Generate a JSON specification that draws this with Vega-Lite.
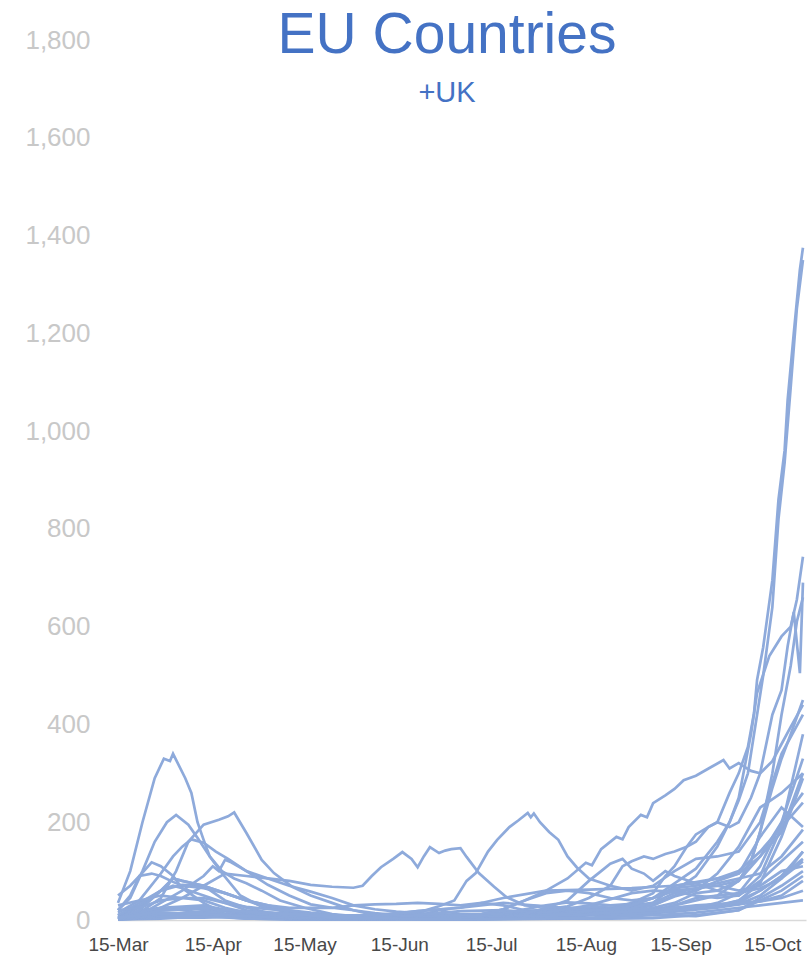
{
"$schema":"https://vega.github.io/schema/vega-lite/v6.json",
"width":688,"height":880,
"autosize":{"type":"none"},
"padding":{"left":118,"top":40,"right":5,"bottom":47},
"background":"white",
"title":{"text":"EU Countries","subtitle":"+UK","anchor":"middle","frame":"group","dx":-15,"offset":-82,"font":"Liberation Sans","fontSize":57,"fontWeight":"normal","color":"#4472c4","subtitleFont":"Liberation Sans","subtitleFontSize":29,"subtitleColor":"#4472c4","subtitlePadding":14},
"config":{"view":{"stroke":null}},
"data":{"values":[
{"c":"CZ","d":"2020-03-15","v":3},{"c":"CZ","d":"2020-03-22","v":8},{"c":"CZ","d":"2020-03-29","v":20},{"c":"CZ","d":"2020-04-05","v":25},{"c":"CZ","d":"2020-04-12","v":22},{"c":"CZ","d":"2020-04-19","v":12},{"c":"CZ","d":"2020-04-26","v":7},{"c":"CZ","d":"2020-05-03","v":5},{"c":"CZ","d":"2020-05-17","v":5},{"c":"CZ","d":"2020-05-31","v":4},{"c":"CZ","d":"2020-06-07","v":5},{"c":"CZ","d":"2020-06-14","v":6},{"c":"CZ","d":"2020-06-21","v":8},{"c":"CZ","d":"2020-06-28","v":20},{"c":"CZ","d":"2020-07-05","v":12},{"c":"CZ","d":"2020-07-12","v":12},{"c":"CZ","d":"2020-07-19","v":16},{"c":"CZ","d":"2020-07-26","v":18},{"c":"CZ","d":"2020-08-02","v":20},{"c":"CZ","d":"2020-08-09","v":20},{"c":"CZ","d":"2020-08-16","v":18},{"c":"CZ","d":"2020-08-23","v":22},{"c":"CZ","d":"2020-08-30","v":35},{"c":"CZ","d":"2020-09-06","v":55},{"c":"CZ","d":"2020-09-10","v":90},{"c":"CZ","d":"2020-09-13","v":110},{"c":"CZ","d":"2020-09-17","v":150},{"c":"CZ","d":"2020-09-20","v":175},{"c":"CZ","d":"2020-09-24","v":190},{"c":"CZ","d":"2020-09-27","v":200},{"c":"CZ","d":"2020-10-01","v":260},{"c":"CZ","d":"2020-10-04","v":300},{"c":"CZ","d":"2020-10-07","v":354},{"c":"CZ","d":"2020-10-09","v":423},{"c":"CZ","d":"2020-10-10","v":491},{"c":"CZ","d":"2020-10-12","v":558},{"c":"CZ","d":"2020-10-15","v":695},{"c":"CZ","d":"2020-10-17","v":860},{"c":"CZ","d":"2020-10-19","v":960},{"c":"CZ","d":"2020-10-20","v":1064},{"c":"CZ","d":"2020-10-22","v":1200},{"c":"CZ","d":"2020-10-24","v":1330},{"c":"CZ","d":"2020-10-25","v":1375},
{"c":"BE","d":"2020-03-15","v":15},{"c":"BE","d":"2020-03-22","v":40},{"c":"BE","d":"2020-03-29","v":95},{"c":"BE","d":"2020-04-02","v":130},{"c":"BE","d":"2020-04-05","v":150},{"c":"BE","d":"2020-04-08","v":165},{"c":"BE","d":"2020-04-12","v":158},{"c":"BE","d":"2020-04-16","v":140},{"c":"BE","d":"2020-04-20","v":125},{"c":"BE","d":"2020-04-26","v":100},{"c":"BE","d":"2020-05-03","v":72},{"c":"BE","d":"2020-05-10","v":50},{"c":"BE","d":"2020-05-17","v":32},{"c":"BE","d":"2020-05-24","v":25},{"c":"BE","d":"2020-05-31","v":20},{"c":"BE","d":"2020-06-07","v":14},{"c":"BE","d":"2020-06-14","v":10},{"c":"BE","d":"2020-06-21","v":8},{"c":"BE","d":"2020-06-28","v":8},{"c":"BE","d":"2020-07-05","v":9},{"c":"BE","d":"2020-07-12","v":12},{"c":"BE","d":"2020-07-19","v":22},{"c":"BE","d":"2020-07-26","v":40},{"c":"BE","d":"2020-08-02","v":55},{"c":"BE","d":"2020-08-09","v":60},{"c":"BE","d":"2020-08-16","v":55},{"c":"BE","d":"2020-08-23","v":45},{"c":"BE","d":"2020-08-30","v":40},{"c":"BE","d":"2020-09-06","v":45},{"c":"BE","d":"2020-09-13","v":60},{"c":"BE","d":"2020-09-20","v":90},{"c":"BE","d":"2020-09-27","v":150},{"c":"BE","d":"2020-10-01","v":200},{"c":"BE","d":"2020-10-04","v":245},{"c":"BE","d":"2020-10-07","v":300},{"c":"BE","d":"2020-10-10","v":420},{"c":"BE","d":"2020-10-12","v":500},{"c":"BE","d":"2020-10-15","v":640},{"c":"BE","d":"2020-10-17","v":820},{"c":"BE","d":"2020-10-19","v":935},{"c":"BE","d":"2020-10-21","v":1090},{"c":"BE","d":"2020-10-23","v":1250},{"c":"BE","d":"2020-10-25","v":1350},
{"c":"NL","d":"2020-03-15","v":8},{"c":"NL","d":"2020-03-22","v":25},{"c":"NL","d":"2020-03-29","v":60},{"c":"NL","d":"2020-04-05","v":72},{"c":"NL","d":"2020-04-12","v":70},{"c":"NL","d":"2020-04-19","v":55},{"c":"NL","d":"2020-04-26","v":40},{"c":"NL","d":"2020-05-03","v":25},{"c":"NL","d":"2020-05-10","v":18},{"c":"NL","d":"2020-05-17","v":12},{"c":"NL","d":"2020-05-24","v":10},{"c":"NL","d":"2020-05-31","v":9},{"c":"NL","d":"2020-06-07","v":8},{"c":"NL","d":"2020-06-14","v":6},{"c":"NL","d":"2020-06-21","v":5},{"c":"NL","d":"2020-06-28","v":4},{"c":"NL","d":"2020-07-05","v":4},{"c":"NL","d":"2020-07-12","v":7},{"c":"NL","d":"2020-07-19","v":12},{"c":"NL","d":"2020-07-26","v":22},{"c":"NL","d":"2020-08-02","v":30},{"c":"NL","d":"2020-08-09","v":36},{"c":"NL","d":"2020-08-16","v":34},{"c":"NL","d":"2020-08-23","v":30},{"c":"NL","d":"2020-08-30","v":33},{"c":"NL","d":"2020-09-06","v":45},{"c":"NL","d":"2020-09-13","v":75},{"c":"NL","d":"2020-09-20","v":105},{"c":"NL","d":"2020-09-27","v":160},{"c":"NL","d":"2020-10-01","v":200},{"c":"NL","d":"2020-10-04","v":250},{"c":"NL","d":"2020-10-08","v":380},{"c":"NL","d":"2020-10-10","v":464},{"c":"NL","d":"2020-10-14","v":540},{"c":"NL","d":"2020-10-18","v":580},{"c":"NL","d":"2020-10-21","v":600},{"c":"NL","d":"2020-10-23","v":655},{"c":"NL","d":"2020-10-25","v":743},
{"c":"FR","d":"2020-03-15","v":10},{"c":"FR","d":"2020-03-22","v":30},{"c":"FR","d":"2020-03-29","v":60},{"c":"FR","d":"2020-04-02","v":85},{"c":"FR","d":"2020-04-05","v":80},{"c":"FR","d":"2020-04-12","v":70},{"c":"FR","d":"2020-04-19","v":40},{"c":"FR","d":"2020-04-26","v":25},{"c":"FR","d":"2020-05-03","v":15},{"c":"FR","d":"2020-05-10","v":10},{"c":"FR","d":"2020-05-17","v":8},{"c":"FR","d":"2020-05-24","v":6},{"c":"FR","d":"2020-05-31","v":6},{"c":"FR","d":"2020-06-14","v":8},{"c":"FR","d":"2020-06-28","v":9},{"c":"FR","d":"2020-07-12","v":10},{"c":"FR","d":"2020-07-26","v":16},{"c":"FR","d":"2020-08-02","v":22},{"c":"FR","d":"2020-08-09","v":28},{"c":"FR","d":"2020-08-16","v":45},{"c":"FR","d":"2020-08-23","v":70},{"c":"FR","d":"2020-08-27","v":110},{"c":"FR","d":"2020-08-30","v":120},{"c":"FR","d":"2020-09-03","v":130},{"c":"FR","d":"2020-09-06","v":125},{"c":"FR","d":"2020-09-10","v":135},{"c":"FR","d":"2020-09-13","v":140},{"c":"FR","d":"2020-09-17","v":150},{"c":"FR","d":"2020-09-20","v":160},{"c":"FR","d":"2020-09-24","v":190},{"c":"FR","d":"2020-09-27","v":200},{"c":"FR","d":"2020-10-01","v":190},{"c":"FR","d":"2020-10-04","v":200},{"c":"FR","d":"2020-10-08","v":250},{"c":"FR","d":"2020-10-11","v":300},{"c":"FR","d":"2020-10-15","v":420},{"c":"FR","d":"2020-10-18","v":470},{"c":"FR","d":"2020-10-20","v":560},{"c":"FR","d":"2020-10-22","v":630},{"c":"FR","d":"2020-10-24","v":505},{"c":"FR","d":"2020-10-25","v":690},
{"c":"SI","d":"2020-03-15","v":5},{"c":"SI","d":"2020-03-22","v":20},{"c":"SI","d":"2020-03-29","v":25},{"c":"SI","d":"2020-04-05","v":20},{"c":"SI","d":"2020-04-12","v":15},{"c":"SI","d":"2020-04-19","v":8},{"c":"SI","d":"2020-04-26","v":4},{"c":"SI","d":"2020-05-10","v":2},{"c":"SI","d":"2020-05-31","v":1},{"c":"SI","d":"2020-06-14","v":2},{"c":"SI","d":"2020-06-28","v":8},{"c":"SI","d":"2020-07-12","v":10},{"c":"SI","d":"2020-07-26","v":8},{"c":"SI","d":"2020-08-09","v":10},{"c":"SI","d":"2020-08-23","v":12},{"c":"SI","d":"2020-09-06","v":20},{"c":"SI","d":"2020-09-13","v":30},{"c":"SI","d":"2020-09-20","v":45},{"c":"SI","d":"2020-09-27","v":50},{"c":"SI","d":"2020-10-04","v":80},{"c":"SI","d":"2020-10-08","v":120},{"c":"SI","d":"2020-10-11","v":180},{"c":"SI","d":"2020-10-15","v":300},{"c":"SI","d":"2020-10-18","v":420},{"c":"SI","d":"2020-10-21","v":520},{"c":"SI","d":"2020-10-23","v":610},{"c":"SI","d":"2020-10-25","v":660},
{"c":"LU","d":"2020-03-15","v":35},{"c":"LU","d":"2020-03-19","v":100},{"c":"LU","d":"2020-03-23","v":200},{"c":"LU","d":"2020-03-27","v":290},{"c":"LU","d":"2020-03-30","v":330},{"c":"LU","d":"2020-04-01","v":325},{"c":"LU","d":"2020-04-02","v":340},{"c":"LU","d":"2020-04-06","v":290},{"c":"LU","d":"2020-04-08","v":260},{"c":"LU","d":"2020-04-10","v":200},{"c":"LU","d":"2020-04-12","v":164},{"c":"LU","d":"2020-04-14","v":130},{"c":"LU","d":"2020-04-18","v":96},{"c":"LU","d":"2020-04-24","v":50},{"c":"LU","d":"2020-05-01","v":27},{"c":"LU","d":"2020-05-10","v":15},{"c":"LU","d":"2020-05-20","v":8},{"c":"LU","d":"2020-05-31","v":5},{"c":"LU","d":"2020-06-14","v":8},{"c":"LU","d":"2020-06-21","v":15},{"c":"LU","d":"2020-06-28","v":28},{"c":"LU","d":"2020-07-03","v":40},{"c":"LU","d":"2020-07-07","v":80},{"c":"LU","d":"2020-07-10","v":96},{"c":"LU","d":"2020-07-14","v":140},{"c":"LU","d":"2020-07-17","v":164},{"c":"LU","d":"2020-07-21","v":190},{"c":"LU","d":"2020-07-24","v":204},{"c":"LU","d":"2020-07-27","v":219},{"c":"LU","d":"2020-07-28","v":210},{"c":"LU","d":"2020-07-29","v":218},{"c":"LU","d":"2020-07-31","v":200},{"c":"LU","d":"2020-08-03","v":180},{"c":"LU","d":"2020-08-06","v":164},{"c":"LU","d":"2020-08-09","v":130},{"c":"LU","d":"2020-08-12","v":108},{"c":"LU","d":"2020-08-16","v":85},{"c":"LU","d":"2020-08-23","v":70},{"c":"LU","d":"2020-08-30","v":60},{"c":"LU","d":"2020-09-06","v":70},{"c":"LU","d":"2020-09-13","v":100},{"c":"LU","d":"2020-09-20","v":125},{"c":"LU","d":"2020-09-27","v":130},{"c":"LU","d":"2020-10-04","v":140},{"c":"LU","d":"2020-10-11","v":200},{"c":"LU","d":"2020-10-18","v":340},{"c":"LU","d":"2020-10-25","v":420},
{"c":"ES","d":"2020-03-15","v":20},{"c":"ES","d":"2020-03-19","v":45},{"c":"ES","d":"2020-03-23","v":100},{"c":"ES","d":"2020-03-27","v":160},{"c":"ES","d":"2020-03-31","v":200},{"c":"ES","d":"2020-04-03","v":215},{"c":"ES","d":"2020-04-07","v":195},{"c":"ES","d":"2020-04-10","v":168},{"c":"ES","d":"2020-04-14","v":130},{"c":"ES","d":"2020-04-18","v":100},{"c":"ES","d":"2020-04-22","v":85},{"c":"ES","d":"2020-04-26","v":75},{"c":"ES","d":"2020-05-01","v":60},{"c":"ES","d":"2020-05-07","v":40},{"c":"ES","d":"2020-05-15","v":25},{"c":"ES","d":"2020-05-24","v":12},{"c":"ES","d":"2020-05-31","v":8},{"c":"ES","d":"2020-06-14","v":7},{"c":"ES","d":"2020-06-28","v":8},{"c":"ES","d":"2020-07-05","v":9},{"c":"ES","d":"2020-07-12","v":12},{"c":"ES","d":"2020-07-19","v":22},{"c":"ES","d":"2020-07-26","v":40},{"c":"ES","d":"2020-08-02","v":60},{"c":"ES","d":"2020-08-09","v":85},{"c":"ES","d":"2020-08-15","v":117},{"c":"ES","d":"2020-08-17","v":112},{"c":"ES","d":"2020-08-20","v":145},{"c":"ES","d":"2020-08-25","v":170},{"c":"ES","d":"2020-08-27","v":165},{"c":"ES","d":"2020-08-29","v":190},{"c":"ES","d":"2020-09-02","v":215},{"c":"ES","d":"2020-09-04","v":210},{"c":"ES","d":"2020-09-06","v":239},{"c":"ES","d":"2020-09-10","v":255},{"c":"ES","d":"2020-09-13","v":268},{"c":"ES","d":"2020-09-16","v":286},{"c":"ES","d":"2020-09-20","v":295},{"c":"ES","d":"2020-09-25","v":313},{"c":"ES","d":"2020-09-29","v":327},{"c":"ES","d":"2020-10-01","v":310},{"c":"ES","d":"2020-10-04","v":321},{"c":"ES","d":"2020-10-08","v":305},{"c":"ES","d":"2020-10-11","v":300},{"c":"ES","d":"2020-10-15","v":325},{"c":"ES","d":"2020-10-18","v":360},{"c":"ES","d":"2020-10-21","v":395},{"c":"ES","d":"2020-10-25","v":440},
{"c":"IE","d":"2020-03-15","v":5},{"c":"IE","d":"2020-03-22","v":15},{"c":"IE","d":"2020-03-29","v":45},{"c":"IE","d":"2020-04-03","v":100},{"c":"IE","d":"2020-04-07","v":160},{"c":"IE","d":"2020-04-12","v":195},{"c":"IE","d":"2020-04-17","v":205},{"c":"IE","d":"2020-04-20","v":212},{"c":"IE","d":"2020-04-22","v":220},{"c":"IE","d":"2020-04-26","v":178},{"c":"IE","d":"2020-05-01","v":123},{"c":"IE","d":"2020-05-05","v":96},{"c":"IE","d":"2020-05-11","v":68},{"c":"IE","d":"2020-05-17","v":50},{"c":"IE","d":"2020-05-24","v":35},{"c":"IE","d":"2020-05-31","v":20},{"c":"IE","d":"2020-06-07","v":10},{"c":"IE","d":"2020-06-14","v":5},{"c":"IE","d":"2020-06-28","v":4},{"c":"IE","d":"2020-07-12","v":5},{"c":"IE","d":"2020-07-26","v":8},{"c":"IE","d":"2020-08-09","v":15},{"c":"IE","d":"2020-08-16","v":30},{"c":"IE","d":"2020-08-23","v":25},{"c":"IE","d":"2020-08-30","v":25},{"c":"IE","d":"2020-09-06","v":30},{"c":"IE","d":"2020-09-13","v":50},{"c":"IE","d":"2020-09-20","v":60},{"c":"IE","d":"2020-09-27","v":80},{"c":"IE","d":"2020-10-04","v":95},{"c":"IE","d":"2020-10-11","v":170},{"c":"IE","d":"2020-10-18","v":230},{"c":"IE","d":"2020-10-25","v":190},
{"c":"SE","d":"2020-03-15","v":5},{"c":"SE","d":"2020-03-22","v":10},{"c":"SE","d":"2020-03-29","v":25},{"c":"SE","d":"2020-04-05","v":45},{"c":"SE","d":"2020-04-12","v":70},{"c":"SE","d":"2020-04-19","v":95},{"c":"SE","d":"2020-04-26","v":90},{"c":"SE","d":"2020-05-03","v":85},{"c":"SE","d":"2020-05-10","v":80},{"c":"SE","d":"2020-05-17","v":72},{"c":"SE","d":"2020-05-24","v":68},{"c":"SE","d":"2020-05-31","v":66},{"c":"SE","d":"2020-06-03","v":70},{"c":"SE","d":"2020-06-06","v":90},{"c":"SE","d":"2020-06-09","v":108},{"c":"SE","d":"2020-06-13","v":125},{"c":"SE","d":"2020-06-16","v":139},{"c":"SE","d":"2020-06-19","v":125},{"c":"SE","d":"2020-06-21","v":108},{"c":"SE","d":"2020-06-23","v":130},{"c":"SE","d":"2020-06-25","v":149},{"c":"SE","d":"2020-06-28","v":137},{"c":"SE","d":"2020-06-30","v":142},{"c":"SE","d":"2020-07-02","v":145},{"c":"SE","d":"2020-07-05","v":147},{"c":"SE","d":"2020-07-07","v":129},{"c":"SE","d":"2020-07-11","v":96},{"c":"SE","d":"2020-07-16","v":68},{"c":"SE","d":"2020-07-20","v":47},{"c":"SE","d":"2020-07-26","v":30},{"c":"SE","d":"2020-08-09","v":25},{"c":"SE","d":"2020-08-23","v":25},{"c":"SE","d":"2020-09-06","v":20},{"c":"SE","d":"2020-09-13","v":30},{"c":"SE","d":"2020-09-20","v":40},{"c":"SE","d":"2020-09-27","v":50},{"c":"SE","d":"2020-10-04","v":55},{"c":"SE","d":"2020-10-11","v":65},{"c":"SE","d":"2020-10-18","v":85},{"c":"SE","d":"2020-10-25","v":120},
{"c":"AT","d":"2020-03-15","v":20},{"c":"AT","d":"2020-03-19","v":50},{"c":"AT","d":"2020-03-22","v":90},{"c":"AT","d":"2020-03-26","v":118},{"c":"AT","d":"2020-03-29","v":110},{"c":"AT","d":"2020-04-02","v":90},{"c":"AT","d":"2020-04-05","v":65},{"c":"AT","d":"2020-04-12","v":35},{"c":"AT","d":"2020-04-19","v":12},{"c":"AT","d":"2020-04-26","v":8},{"c":"AT","d":"2020-05-10","v":5},{"c":"AT","d":"2020-05-31","v":4},{"c":"AT","d":"2020-06-14","v":5},{"c":"AT","d":"2020-06-28","v":10},{"c":"AT","d":"2020-07-12","v":12},{"c":"AT","d":"2020-07-26","v":12},{"c":"AT","d":"2020-08-09","v":15},{"c":"AT","d":"2020-08-23","v":25},{"c":"AT","d":"2020-09-06","v":35},{"c":"AT","d":"2020-09-13","v":70},{"c":"AT","d":"2020-09-20","v":75},{"c":"AT","d":"2020-09-27","v":85},{"c":"AT","d":"2020-10-04","v":95},{"c":"AT","d":"2020-10-11","v":130},{"c":"AT","d":"2020-10-18","v":180},{"c":"AT","d":"2020-10-25","v":300},
{"c":"IT","d":"2020-03-15","v":50},{"c":"IT","d":"2020-03-19","v":70},{"c":"IT","d":"2020-03-22","v":90},{"c":"IT","d":"2020-03-26","v":95},{"c":"IT","d":"2020-03-29","v":90},{"c":"IT","d":"2020-04-02","v":78},{"c":"IT","d":"2020-04-05","v":70},{"c":"IT","d":"2020-04-12","v":65},{"c":"IT","d":"2020-04-19","v":55},{"c":"IT","d":"2020-04-26","v":40},{"c":"IT","d":"2020-05-03","v":30},{"c":"IT","d":"2020-05-10","v":20},{"c":"IT","d":"2020-05-17","v":15},{"c":"IT","d":"2020-05-24","v":11},{"c":"IT","d":"2020-05-31","v":6},{"c":"IT","d":"2020-06-14","v":5},{"c":"IT","d":"2020-06-28","v":3},{"c":"IT","d":"2020-07-12","v":3},{"c":"IT","d":"2020-07-26","v":4},{"c":"IT","d":"2020-08-09","v":6},{"c":"IT","d":"2020-08-23","v":17},{"c":"IT","d":"2020-09-06","v":23},{"c":"IT","d":"2020-09-20","v":26},{"c":"IT","d":"2020-09-27","v":28},{"c":"IT","d":"2020-10-04","v":40},{"c":"IT","d":"2020-10-11","v":75},{"c":"IT","d":"2020-10-18","v":170},{"c":"IT","d":"2020-10-25","v":290},
{"c":"UK","d":"2020-03-15","v":2},{"c":"UK","d":"2020-03-22","v":10},{"c":"UK","d":"2020-03-29","v":35},{"c":"UK","d":"2020-04-05","v":60},{"c":"UK","d":"2020-04-12","v":90},{"c":"UK","d":"2020-04-15","v":110},{"c":"UK","d":"2020-04-17","v":100},{"c":"UK","d":"2020-04-19","v":123},{"c":"UK","d":"2020-04-21","v":118},{"c":"UK","d":"2020-04-26","v":100},{"c":"UK","d":"2020-05-03","v":85},{"c":"UK","d":"2020-05-10","v":70},{"c":"UK","d":"2020-05-17","v":58},{"c":"UK","d":"2020-05-24","v":45},{"c":"UK","d":"2020-05-31","v":30},{"c":"UK","d":"2020-06-07","v":22},{"c":"UK","d":"2020-06-14","v":17},{"c":"UK","d":"2020-06-21","v":14},{"c":"UK","d":"2020-06-28","v":12},{"c":"UK","d":"2020-07-05","v":10},{"c":"UK","d":"2020-07-12","v":9},{"c":"UK","d":"2020-07-19","v":10},{"c":"UK","d":"2020-07-26","v":11},{"c":"UK","d":"2020-08-02","v":12},{"c":"UK","d":"2020-08-09","v":14},{"c":"UK","d":"2020-08-16","v":16},{"c":"UK","d":"2020-08-23","v":17},{"c":"UK","d":"2020-08-30","v":20},{"c":"UK","d":"2020-09-06","v":30},{"c":"UK","d":"2020-09-13","v":48},{"c":"UK","d":"2020-09-20","v":60},{"c":"UK","d":"2020-09-27","v":95},{"c":"UK","d":"2020-10-04","v":150},{"c":"UK","d":"2020-10-11","v":230},{"c":"UK","d":"2020-10-18","v":260},{"c":"UK","d":"2020-10-25","v":300},
{"c":"PT","d":"2020-03-15","v":3},{"c":"PT","d":"2020-03-22","v":20},{"c":"PT","d":"2020-03-29","v":60},{"c":"PT","d":"2020-04-02","v":85},{"c":"PT","d":"2020-04-05","v":80},{"c":"PT","d":"2020-04-12","v":70},{"c":"PT","d":"2020-04-19","v":55},{"c":"PT","d":"2020-04-26","v":40},{"c":"PT","d":"2020-05-03","v":30},{"c":"PT","d":"2020-05-10","v":25},{"c":"PT","d":"2020-05-24","v":25},{"c":"PT","d":"2020-05-31","v":30},{"c":"PT","d":"2020-06-07","v":32},{"c":"PT","d":"2020-06-14","v":33},{"c":"PT","d":"2020-06-21","v":35},{"c":"PT","d":"2020-06-28","v":33},{"c":"PT","d":"2020-07-05","v":30},{"c":"PT","d":"2020-07-12","v":35},{"c":"PT","d":"2020-07-19","v":30},{"c":"PT","d":"2020-07-26","v":20},{"c":"PT","d":"2020-08-02","v":17},{"c":"PT","d":"2020-08-16","v":20},{"c":"PT","d":"2020-08-30","v":25},{"c":"PT","d":"2020-09-06","v":35},{"c":"PT","d":"2020-09-13","v":55},{"c":"PT","d":"2020-09-20","v":65},{"c":"PT","d":"2020-09-27","v":70},{"c":"PT","d":"2020-10-04","v":80},{"c":"PT","d":"2020-10-11","v":130},{"c":"PT","d":"2020-10-18","v":200},{"c":"PT","d":"2020-10-25","v":260},
{"c":"DE","d":"2020-03-15","v":10},{"c":"DE","d":"2020-03-22","v":35},{"c":"DE","d":"2020-03-29","v":60},{"c":"DE","d":"2020-04-02","v":70},{"c":"DE","d":"2020-04-05","v":65},{"c":"DE","d":"2020-04-12","v":50},{"c":"DE","d":"2020-04-19","v":35},{"c":"DE","d":"2020-04-26","v":20},{"c":"DE","d":"2020-05-03","v":12},{"c":"DE","d":"2020-05-10","v":10},{"c":"DE","d":"2020-05-17","v":8},{"c":"DE","d":"2020-05-24","v":6},{"c":"DE","d":"2020-05-31","v":5},{"c":"DE","d":"2020-06-14","v":4},{"c":"DE","d":"2020-06-21","v":7},{"c":"DE","d":"2020-06-28","v":6},{"c":"DE","d":"2020-07-12","v":5},{"c":"DE","d":"2020-07-26","v":8},{"c":"DE","d":"2020-08-02","v":10},{"c":"DE","d":"2020-08-09","v":12},{"c":"DE","d":"2020-08-16","v":15},{"c":"DE","d":"2020-08-23","v":16},{"c":"DE","d":"2020-08-30","v":15},{"c":"DE","d":"2020-09-06","v":14},{"c":"DE","d":"2020-09-13","v":17},{"c":"DE","d":"2020-09-20","v":21},{"c":"DE","d":"2020-09-27","v":25},{"c":"DE","d":"2020-10-04","v":32},{"c":"DE","d":"2020-10-11","v":50},{"c":"DE","d":"2020-10-18","v":85},{"c":"DE","d":"2020-10-25","v":140},
{"c":"DK","d":"2020-03-15","v":20},{"c":"DK","d":"2020-03-22","v":25},{"c":"DK","d":"2020-03-29","v":40},{"c":"DK","d":"2020-04-05","v":45},{"c":"DK","d":"2020-04-12","v":45},{"c":"DK","d":"2020-04-19","v":35},{"c":"DK","d":"2020-04-26","v":27},{"c":"DK","d":"2020-05-03","v":22},{"c":"DK","d":"2020-05-10","v":20},{"c":"DK","d":"2020-05-17","v":12},{"c":"DK","d":"2020-05-24","v":8},{"c":"DK","d":"2020-05-31","v":6},{"c":"DK","d":"2020-06-14","v":7},{"c":"DK","d":"2020-06-28","v":6},{"c":"DK","d":"2020-07-12","v":3},{"c":"DK","d":"2020-07-26","v":8},{"c":"DK","d":"2020-08-02","v":15},{"c":"DK","d":"2020-08-16","v":14},{"c":"DK","d":"2020-08-30","v":30},{"c":"DK","d":"2020-09-06","v":45},{"c":"DK","d":"2020-09-13","v":60},{"c":"DK","d":"2020-09-20","v":65},{"c":"DK","d":"2020-09-27","v":70},{"c":"DK","d":"2020-10-04","v":60},{"c":"DK","d":"2020-10-11","v":70},{"c":"DK","d":"2020-10-18","v":100},{"c":"DK","d":"2020-10-25","v":110},
{"c":"PL","d":"2020-03-15","v":1},{"c":"PL","d":"2020-03-29","v":6},{"c":"PL","d":"2020-04-12","v":9},{"c":"PL","d":"2020-04-26","v":8},{"c":"PL","d":"2020-05-10","v":8},{"c":"PL","d":"2020-05-24","v":9},{"c":"PL","d":"2020-06-07","v":10},{"c":"PL","d":"2020-06-21","v":9},{"c":"PL","d":"2020-07-05","v":8},{"c":"PL","d":"2020-07-19","v":9},{"c":"PL","d":"2020-08-02","v":15},{"c":"PL","d":"2020-08-16","v":20},{"c":"PL","d":"2020-08-30","v":17},{"c":"PL","d":"2020-09-13","v":18},{"c":"PL","d":"2020-09-20","v":25},{"c":"PL","d":"2020-09-27","v":35},{"c":"PL","d":"2020-10-04","v":55},{"c":"PL","d":"2020-10-11","v":110},{"c":"PL","d":"2020-10-18","v":200},{"c":"PL","d":"2020-10-25","v":330},
{"c":"RO","d":"2020-03-15","v":1},{"c":"RO","d":"2020-03-29","v":10},{"c":"RO","d":"2020-04-12","v":18},{"c":"RO","d":"2020-04-26","v":18},{"c":"RO","d":"2020-05-10","v":13},{"c":"RO","d":"2020-05-24","v":9},{"c":"RO","d":"2020-06-07","v":10},{"c":"RO","d":"2020-06-21","v":18},{"c":"RO","d":"2020-07-05","v":25},{"c":"RO","d":"2020-07-19","v":45},{"c":"RO","d":"2020-08-02","v":60},{"c":"RO","d":"2020-08-16","v":62},{"c":"RO","d":"2020-08-30","v":65},{"c":"RO","d":"2020-09-13","v":70},{"c":"RO","d":"2020-09-27","v":85},{"c":"RO","d":"2020-10-04","v":100},{"c":"RO","d":"2020-10-11","v":140},{"c":"RO","d":"2020-10-18","v":190},{"c":"RO","d":"2020-10-25","v":240},
{"c":"HU","d":"2020-03-15","v":1},{"c":"HU","d":"2020-03-29","v":3},{"c":"HU","d":"2020-04-12","v":8},{"c":"HU","d":"2020-04-26","v":7},{"c":"HU","d":"2020-05-10","v":4},{"c":"HU","d":"2020-05-24","v":2},{"c":"HU","d":"2020-06-07","v":1},{"c":"HU","d":"2020-06-28","v":1},{"c":"HU","d":"2020-07-12","v":2},{"c":"HU","d":"2020-07-26","v":3},{"c":"HU","d":"2020-08-09","v":5},{"c":"HU","d":"2020-08-23","v":15},{"c":"HU","d":"2020-09-06","v":45},{"c":"HU","d":"2020-09-13","v":65},{"c":"HU","d":"2020-09-20","v":70},{"c":"HU","d":"2020-09-27","v":75},{"c":"HU","d":"2020-10-04","v":85},{"c":"HU","d":"2020-10-11","v":95},{"c":"HU","d":"2020-10-18","v":130},{"c":"HU","d":"2020-10-25","v":185},
{"c":"SK","d":"2020-03-15","v":1},{"c":"SK","d":"2020-03-29","v":8},{"c":"SK","d":"2020-04-12","v":10},{"c":"SK","d":"2020-04-26","v":3},{"c":"SK","d":"2020-05-10","v":1},{"c":"SK","d":"2020-05-31","v":1},{"c":"SK","d":"2020-06-14","v":3},{"c":"SK","d":"2020-07-05","v":4},{"c":"SK","d":"2020-07-19","v":7},{"c":"SK","d":"2020-08-02","v":10},{"c":"SK","d":"2020-08-16","v":12},{"c":"SK","d":"2020-08-30","v":18},{"c":"SK","d":"2020-09-06","v":25},{"c":"SK","d":"2020-09-13","v":35},{"c":"SK","d":"2020-09-20","v":55},{"c":"SK","d":"2020-09-27","v":60},{"c":"SK","d":"2020-10-04","v":80},{"c":"SK","d":"2020-10-08","v":120},{"c":"SK","d":"2020-10-11","v":180},{"c":"SK","d":"2020-10-15","v":270},{"c":"SK","d":"2020-10-18","v":330},{"c":"SK","d":"2020-10-21","v":380},{"c":"SK","d":"2020-10-25","v":450},
{"c":"BG","d":"2020-03-15","v":1},{"c":"BG","d":"2020-03-29","v":5},{"c":"BG","d":"2020-04-12","v":5},{"c":"BG","d":"2020-04-26","v":7},{"c":"BG","d":"2020-05-10","v":5},{"c":"BG","d":"2020-05-24","v":4},{"c":"BG","d":"2020-06-07","v":8},{"c":"BG","d":"2020-06-21","v":18},{"c":"BG","d":"2020-07-05","v":25},{"c":"BG","d":"2020-07-19","v":35},{"c":"BG","d":"2020-08-02","v":28},{"c":"BG","d":"2020-08-16","v":20},{"c":"BG","d":"2020-08-30","v":15},{"c":"BG","d":"2020-09-13","v":20},{"c":"BG","d":"2020-09-27","v":30},{"c":"BG","d":"2020-10-04","v":40},{"c":"BG","d":"2020-10-11","v":60},{"c":"BG","d":"2020-10-18","v":90},{"c":"BG","d":"2020-10-25","v":140},
{"c":"HR","d":"2020-03-15","v":1},{"c":"HR","d":"2020-03-29","v":15},{"c":"HR","d":"2020-04-12","v":12},{"c":"HR","d":"2020-04-26","v":6},{"c":"HR","d":"2020-05-10","v":2},{"c":"HR","d":"2020-05-24","v":1},{"c":"HR","d":"2020-06-07","v":1},{"c":"HR","d":"2020-06-21","v":10},{"c":"HR","d":"2020-07-05","v":18},{"c":"HR","d":"2020-07-19","v":20},{"c":"HR","d":"2020-08-02","v":15},{"c":"HR","d":"2020-08-16","v":30},{"c":"HR","d":"2020-08-30","v":55},{"c":"HR","d":"2020-09-06","v":60},{"c":"HR","d":"2020-09-13","v":58},{"c":"HR","d":"2020-09-20","v":50},{"c":"HR","d":"2020-09-27","v":45},{"c":"HR","d":"2020-10-04","v":50},{"c":"HR","d":"2020-10-11","v":90},{"c":"HR","d":"2020-10-18","v":190},{"c":"HR","d":"2020-10-25","v":380},
{"c":"GR","d":"2020-03-15","v":2},{"c":"GR","d":"2020-03-29","v":8},{"c":"GR","d":"2020-04-12","v":8},{"c":"GR","d":"2020-04-26","v":3},{"c":"GR","d":"2020-05-10","v":1},{"c":"GR","d":"2020-05-31","v":1},{"c":"GR","d":"2020-06-14","v":2},{"c":"GR","d":"2020-06-28","v":2},{"c":"GR","d":"2020-07-12","v":3},{"c":"GR","d":"2020-07-26","v":5},{"c":"GR","d":"2020-08-09","v":15},{"c":"GR","d":"2020-08-23","v":22},{"c":"GR","d":"2020-09-06","v":22},{"c":"GR","d":"2020-09-20","v":28},{"c":"GR","d":"2020-10-04","v":32},{"c":"GR","d":"2020-10-11","v":38},{"c":"GR","d":"2020-10-18","v":50},{"c":"GR","d":"2020-10-25","v":80},
{"c":"CY","d":"2020-03-15","v":3},{"c":"CY","d":"2020-03-29","v":20},{"c":"CY","d":"2020-04-12","v":25},{"c":"CY","d":"2020-04-26","v":10},{"c":"CY","d":"2020-05-10","v":4},{"c":"CY","d":"2020-05-31","v":1},{"c":"CY","d":"2020-06-14","v":1},{"c":"CY","d":"2020-06-28","v":1},{"c":"CY","d":"2020-07-12","v":2},{"c":"CY","d":"2020-07-26","v":3},{"c":"CY","d":"2020-08-09","v":8},{"c":"CY","d":"2020-08-23","v":12},{"c":"CY","d":"2020-09-06","v":10},{"c":"CY","d":"2020-09-20","v":8},{"c":"CY","d":"2020-10-04","v":20},{"c":"CY","d":"2020-10-11","v":45},{"c":"CY","d":"2020-10-18","v":70},{"c":"CY","d":"2020-10-25","v":100},
{"c":"MT","d":"2020-03-15","v":2},{"c":"MT","d":"2020-03-29","v":25},{"c":"MT","d":"2020-04-12","v":30},{"c":"MT","d":"2020-04-26","v":12},{"c":"MT","d":"2020-05-10","v":8},{"c":"MT","d":"2020-05-24","v":10},{"c":"MT","d":"2020-06-07","v":6},{"c":"MT","d":"2020-06-21","v":2},{"c":"MT","d":"2020-07-05","v":1},{"c":"MT","d":"2020-07-19","v":3},{"c":"MT","d":"2020-07-26","v":12},{"c":"MT","d":"2020-08-02","v":25},{"c":"MT","d":"2020-08-09","v":40},{"c":"MT","d":"2020-08-16","v":80},{"c":"MT","d":"2020-08-20","v":100},{"c":"MT","d":"2020-08-23","v":115},{"c":"MT","d":"2020-08-27","v":125},{"c":"MT","d":"2020-08-30","v":105},{"c":"MT","d":"2020-09-03","v":95},{"c":"MT","d":"2020-09-06","v":80},{"c":"MT","d":"2020-09-10","v":100},{"c":"MT","d":"2020-09-13","v":90},{"c":"MT","d":"2020-09-20","v":75},{"c":"MT","d":"2020-09-27","v":60},{"c":"MT","d":"2020-10-04","v":50},{"c":"MT","d":"2020-10-11","v":80},{"c":"MT","d":"2020-10-18","v":120},{"c":"MT","d":"2020-10-25","v":160},
{"c":"LT","d":"2020-03-15","v":1},{"c":"LT","d":"2020-03-29","v":12},{"c":"LT","d":"2020-04-12","v":15},{"c":"LT","d":"2020-04-26","v":8},{"c":"LT","d":"2020-05-10","v":5},{"c":"LT","d":"2020-05-31","v":4},{"c":"LT","d":"2020-06-14","v":3},{"c":"LT","d":"2020-06-28","v":4},{"c":"LT","d":"2020-07-12","v":5},{"c":"LT","d":"2020-07-26","v":8},{"c":"LT","d":"2020-08-09","v":12},{"c":"LT","d":"2020-08-23","v":10},{"c":"LT","d":"2020-09-06","v":15},{"c":"LT","d":"2020-09-20","v":25},{"c":"LT","d":"2020-10-04","v":35},{"c":"LT","d":"2020-10-11","v":60},{"c":"LT","d":"2020-10-18","v":90},{"c":"LT","d":"2020-10-25","v":125},
{"c":"LV","d":"2020-03-15","v":3},{"c":"LV","d":"2020-03-29","v":15},{"c":"LV","d":"2020-04-12","v":12},{"c":"LV","d":"2020-04-26","v":8},{"c":"LV","d":"2020-05-10","v":5},{"c":"LV","d":"2020-05-31","v":3},{"c":"LV","d":"2020-06-14","v":2},{"c":"LV","d":"2020-06-28","v":1},{"c":"LV","d":"2020-07-12","v":1},{"c":"LV","d":"2020-07-26","v":2},{"c":"LV","d":"2020-08-09","v":3},{"c":"LV","d":"2020-08-23","v":3},{"c":"LV","d":"2020-09-06","v":4},{"c":"LV","d":"2020-09-20","v":10},{"c":"LV","d":"2020-10-04","v":20},{"c":"LV","d":"2020-10-11","v":40},{"c":"LV","d":"2020-10-18","v":60},{"c":"LV","d":"2020-10-25","v":90},
{"c":"EE","d":"2020-03-15","v":30},{"c":"EE","d":"2020-03-22","v":40},{"c":"EE","d":"2020-03-29","v":50},{"c":"EE","d":"2020-04-05","v":45},{"c":"EE","d":"2020-04-12","v":40},{"c":"EE","d":"2020-04-19","v":25},{"c":"EE","d":"2020-04-26","v":15},{"c":"EE","d":"2020-05-10","v":8},{"c":"EE","d":"2020-05-31","v":3},{"c":"EE","d":"2020-06-14","v":2},{"c":"EE","d":"2020-06-28","v":2},{"c":"EE","d":"2020-07-12","v":3},{"c":"EE","d":"2020-07-26","v":5},{"c":"EE","d":"2020-08-09","v":8},{"c":"EE","d":"2020-08-23","v":15},{"c":"EE","d":"2020-09-06","v":20},{"c":"EE","d":"2020-09-20","v":30},{"c":"EE","d":"2020-10-04","v":35},{"c":"EE","d":"2020-10-11","v":38},{"c":"EE","d":"2020-10-18","v":45},{"c":"EE","d":"2020-10-25","v":60},
{"c":"FI","d":"2020-03-15","v":5},{"c":"FI","d":"2020-03-22","v":10},{"c":"FI","d":"2020-03-29","v":20},{"c":"FI","d":"2020-04-05","v":22},{"c":"FI","d":"2020-04-12","v":25},{"c":"FI","d":"2020-04-19","v":20},{"c":"FI","d":"2020-04-26","v":17},{"c":"FI","d":"2020-05-10","v":12},{"c":"FI","d":"2020-05-24","v":6},{"c":"FI","d":"2020-06-07","v":4},{"c":"FI","d":"2020-06-21","v":2},{"c":"FI","d":"2020-07-05","v":1},{"c":"FI","d":"2020-07-19","v":2},{"c":"FI","d":"2020-08-02","v":3},{"c":"FI","d":"2020-08-16","v":5},{"c":"FI","d":"2020-08-30","v":8},{"c":"FI","d":"2020-09-13","v":12},{"c":"FI","d":"2020-09-20","v":15},{"c":"FI","d":"2020-09-27","v":20},{"c":"FI","d":"2020-10-04","v":25},{"c":"FI","d":"2020-10-11","v":30},{"c":"FI","d":"2020-10-18","v":35},{"c":"FI","d":"2020-10-25","v":40}
]},
"mark":{"type":"line","strokeWidth":2.7,"color":"#8eaadb","interpolate":"linear","clip":false},
"encoding":{
"x":{"field":"d","type":"temporal","scale":{"type":"utc","domain":[{"year":2020,"month":3,"date":15,"utc":true},{"year":2020,"month":10,"date":26,"utc":true}]},
"axis":{"title":null,"format":"%d-%b","values":[{"year":2020,"month":3,"date":15,"utc":true},{"year":2020,"month":4,"date":15,"utc":true},{"year":2020,"month":5,"date":15,"utc":true},{"year":2020,"month":6,"date":15,"utc":true},{"year":2020,"month":7,"date":15,"utc":true},{"year":2020,"month":8,"date":15,"utc":true},{"year":2020,"month":9,"date":15,"utc":true},{"year":2020,"month":10,"date":15,"utc":true}],"labelFont":"Liberation Sans","labelFontSize":19,"labelColor":"#484848","labelPadding":15,"labelFlush":false,"labelOverlap":false,"ticks":false,"grid":false,"domain":true,"domainColor":"#d9d9d9","domainWidth":1.5}},
"y":{"field":"v","type":"quantitative","scale":{"domain":[0,1800],"nice":false},
"axis":{"title":null,"values":[0,200,400,600,800,1000,1200,1400,1600,1800],"format":",.0f","labelFont":"Liberation Sans","labelFontSize":26,"labelColor":"#c8c8c8","labelPadding":28,"labelFlush":false,"labelOverlap":false,"labelBound":false,"ticks":false,"grid":false,"domain":false}},
"detail":{"field":"c","type":"nominal"}
}
}
